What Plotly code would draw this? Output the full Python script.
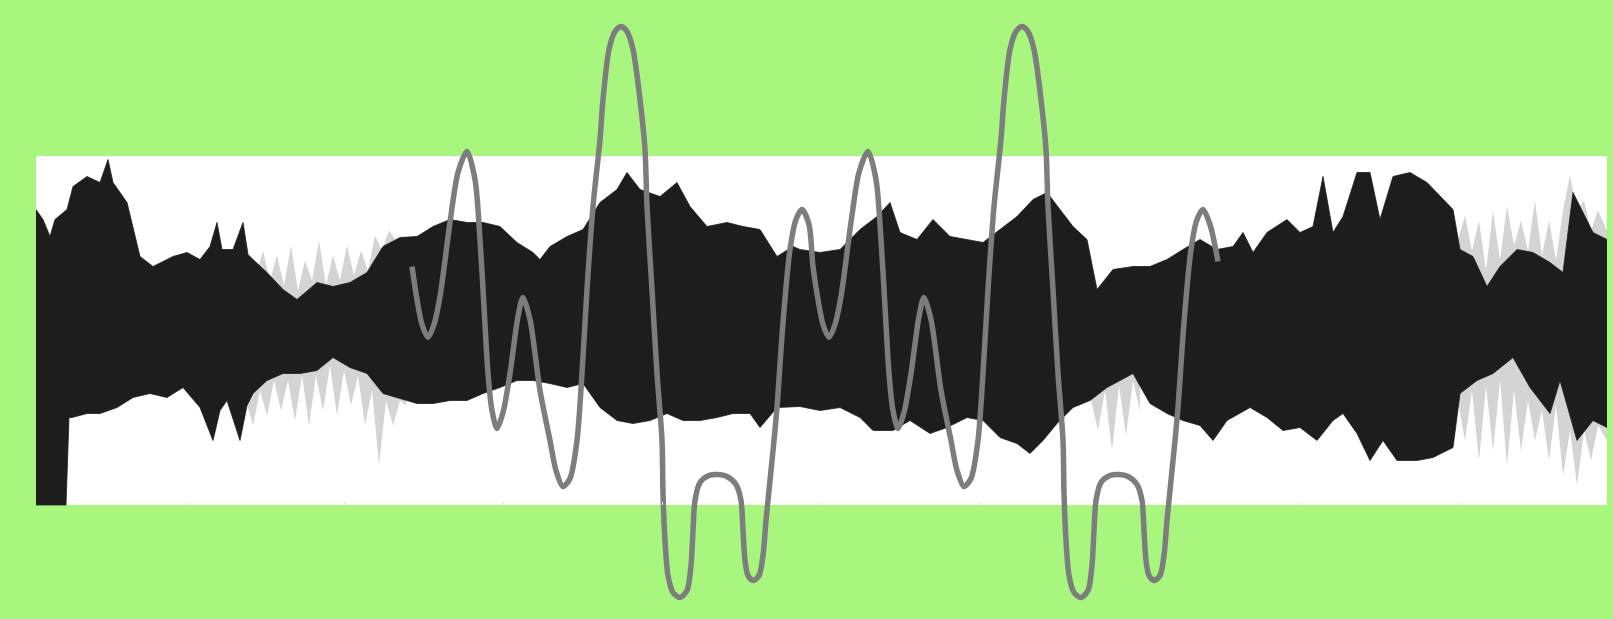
import plotly.graph_objects as go

# ---- waveform envelope (time in s, amplitude) ----
upper_t = [0.00, 0.07, 0.14, 0.19, 0.31, 0.37, 0.51, 0.64, 0.72, 0.77, 0.91, 0.97, 1.04, 1.17, 1.37, 1.51,
           1.64, 1.74, 1.81, 1.86, 1.97, 2.07, 2.12, 2.17, 2.31, 2.47, 2.61, 2.81, 2.97, 3.14, 3.31, 3.47,
           3.64, 3.81, 3.97, 4.14, 4.31, 4.47, 4.64, 4.81, 4.97, 5.04, 5.14, 5.31, 5.47, 5.64, 5.81, 5.91,
           6.04, 6.24, 6.41, 6.54, 6.71, 6.91, 7.07, 7.24, 7.41, 7.57, 7.64, 7.84, 8.04, 8.24, 8.41, 8.54,
           8.64, 8.81, 8.97, 9.14, 9.31, 9.47, 9.64, 9.81, 9.97, 10.11, 10.24, 10.37, 10.51, 10.61, 10.77,
           10.97, 11.14, 11.31, 11.47, 11.64, 11.81, 11.97, 12.07, 12.17, 12.31, 12.51, 12.64, 12.77, 12.87,
           12.97, 13.07, 13.21, 13.34, 13.44, 13.57, 13.74, 13.91, 14.04, 14.17, 14.24, 14.37, 14.51, 14.64,
           14.81, 14.97, 15.14, 15.27, 15.37, 15.47, 15.57, 15.71]
upper_a = [1.21, 1.11, 0.94, 1.11, 1.21, 1.44, 1.54, 1.48, 1.71, 1.48, 1.28, 1.04, 0.74, 0.64, 0.74, 0.78,
           0.71, 0.84, 1.08, 0.81, 0.81, 1.08, 0.76, 0.71, 0.58, 0.41, 0.31, 0.48, 0.44, 0.48, 0.58, 0.84,
           0.93, 0.94, 1.04, 1.11, 1.08, 1.08, 1.04, 0.88, 0.78, 0.71, 0.84, 0.94, 1.01, 1.28, 1.41, 1.58,
           1.41, 1.34, 1.48, 1.24, 1.04, 1.08, 1.04, 1.01, 0.74, 0.84, 0.81, 0.78, 0.81, 1.01, 1.14, 1.28,
           0.98, 0.91, 1.11, 0.94, 0.91, 0.88, 1.01, 1.14, 1.31, 1.38, 1.21, 1.04, 0.91, 0.41, 0.61,
           0.64, 0.64, 0.71, 0.81, 0.91, 0.81, 0.84, 0.98, 0.78, 0.98, 1.11, 0.98, 1.04, 1.54,
           0.98, 1.14, 1.58, 1.58, 1.11, 1.54, 1.58, 1.48, 1.34, 1.21, 0.81, 0.74, 0.44, 0.64,
           0.81, 0.78, 0.68, 0.58, 1.38, 1.18, 0.98, 0.91]

lower_t = [0.00, 0.16, 0.30, 0.33, 0.36, 0.51, 0.64, 0.81, 0.97, 1.14, 1.31, 1.47, 1.64, 1.77, 1.84, 1.91,
           2.04, 2.11, 2.17, 2.31, 2.47, 2.64, 2.81, 2.97, 3.14, 3.31, 3.47, 3.64, 3.81, 3.97, 4.14, 4.31,
           4.47, 4.64, 4.81, 4.97, 5.14, 5.31, 5.47, 5.64, 5.81, 5.97, 6.14, 6.31, 6.47, 6.64, 6.81, 6.97,
           7.14, 7.24, 7.41, 7.64, 7.84, 8.04, 8.24, 8.37, 8.57, 8.74, 8.94, 9.11, 9.31, 9.47, 9.64, 9.81,
           9.94, 10.07, 10.21, 10.37, 10.54, 10.71, 10.84, 10.97, 11.14, 11.31, 11.47, 11.64, 11.77, 11.91,
           12.14, 12.31, 12.47, 12.64, 12.81, 12.97, 13.07, 13.21, 13.34, 13.47, 13.61, 13.81, 13.97, 14.17,
           14.24, 14.41, 14.57, 14.77, 14.94, 15.14, 15.24, 15.41, 15.57, 15.71]
lower_a = [-1.745, -1.745, -1.745, -0.87, -0.87, -0.83, -0.83, -0.77, -0.67, -0.63, -0.67, -0.57, -0.77, -1.10, -0.80, -0.70,
           -1.10, -0.75, -0.63, -0.50, -0.43, -0.43, -0.40, -0.27, -0.37, -0.43, -0.63, -0.68, -0.73, -0.73, -0.70, -0.70,
           -0.63, -0.57, -0.50, -0.50, -0.53, -0.57, -0.53, -0.77, -0.90, -0.93, -0.90, -0.83, -0.90, -0.90, -0.87, -0.83,
           -0.83, -0.97, -0.77, -0.76, -0.80, -0.77, -0.87, -1.00, -1.00, -0.90, -1.03, -0.97, -0.87, -0.90, -1.07, -1.13,
           -1.23, -1.10, -0.93, -0.77, -0.70, -0.57, -0.50, -0.43, -0.73, -0.83, -0.90, -0.95, -1.10, -0.90,
           -0.77, -0.87, -1.00, -0.97, -1.10, -0.90, -0.83, -1.03, -1.30, -1.10, -1.30, -1.30, -1.27, -1.17,
           -0.63, -0.50, -0.43, -0.27, -0.57, -0.83, -0.50, -1.10, -0.90, -0.97]

# faint outer fringe of the waveform (low-level peaks), one closed region per group
fringe_t = [2.20, 2.27, 2.34, 2.41, 2.48, 2.55, 2.62, 2.69, 2.76, 2.83, 2.90, 2.97, 3.04, 3.11, 3.18, 3.25,
            3.32, 3.39, 3.46, 3.53, 3.60, 3.60, 2.20, None,
            2.10, 2.17, 2.24, 2.31, 2.38, 2.45, 2.52, 2.59, 2.66, 2.73, 2.80, 2.87, 2.94, 3.01, 3.08, 3.15,
            3.22, 3.29, 3.36, 3.43, 3.50, 3.57, 3.64, 3.70, 3.70, 2.10, None,
            10.55, 10.62, 10.69, 10.76, 10.83, 10.90, 10.97, 11.04, 11.04, 10.55, None,
            14.15, 14.22, 14.29, 14.36, 14.43, 14.50, 14.57, 14.64, 14.71, 14.78, 14.85, 14.92, 14.99, 15.06,
            15.13, 15.20, 15.27, 15.34, 15.41, 15.48, 15.55, 15.62, 15.71, 15.71, 14.15, None,
            14.15, 14.22, 14.29, 14.36, 14.43, 14.50, 14.57, 14.64, 14.71, 14.78, 14.85, 14.92, 14.99, 15.06,
            15.13, 15.20, 15.27, 15.34, 15.41, 15.48, 15.55, 15.62, 15.71, 15.71, 14.15]
fringe_a = [0.55, 0.80, 0.50, 0.75, 0.45, 0.85, 0.40, 0.70, 0.50, 0.90, 0.45, 0.75, 0.50, 0.85, 0.55, 0.80,
            0.60, 0.95, 0.80, 1.00, 0.90, 0.00, 0.00, None,
            -0.70, -0.95, -0.60, -0.85, -0.50, -0.80, -0.50, -0.90, -0.45, -0.95, -0.45, -0.80, -0.35, -0.85, -0.40, -0.75,
            -0.45, -0.95, -0.60, -1.35, -0.70, -0.95, -0.70, -0.75, 0.00, 0.00, None,
            -0.70, -1.00, -0.60, -1.20, -0.55, -1.05, -0.50, -0.80, 0.00, 0.00, None,
            1.20, 0.90, 1.15, 0.80, 1.10, 0.60, 1.20, 0.70, 1.25, 0.85, 1.10, 0.80, 1.30, 0.75,
            1.10, 0.70, 1.20, 1.55, 1.20, 1.30, 1.00, 1.20, 1.00, 0.00, 0.00, None,
            -1.20, -0.70, -1.10, -0.60, -1.30, -0.55, -1.20, -0.50, -1.35, -0.60, -1.20, -0.70, -1.10, -0.80,
            -1.30, -0.75, -1.45, -1.00, -1.55, -1.00, -1.30, -0.95, -1.10, 0.00, 0.00]

# ---- overlay curve (time in s, amplitude) ----
curve_t = [3.76, 3.81, 3.86, 3.92, 3.98, 4.04, 4.14, 4.22, 4.31, 4.39, 4.44, 4.48, 4.52, 4.56, 4.61, 4.67,
           4.74, 4.82, 4.87, 4.94, 5.04, 5.14, 5.20, 5.27, 5.34, 5.41, 5.46, 5.51, 5.57, 5.64, 5.67, 5.73,
           5.79, 5.85, 5.91, 5.97, 6.04, 6.09, 6.11, 6.16, 6.21, 6.26, 6.27, 6.29, 6.32, 6.37, 6.44, 6.51,
           6.55, 6.57, 6.59, 6.64, 6.73, 6.82, 6.91, 7.00, 7.05, 7.07, 7.09, 7.12, 7.17, 7.23, 7.27, 7.30,
           7.34, 7.38, 7.41, 7.47, 7.54, 7.60, 7.66, 7.73,
           7.77, 7.82, 7.87, 7.93, 7.99, 8.05, 8.15, 8.23, 8.32, 8.40, 8.45, 8.49, 8.53, 8.57, 8.62, 8.68,
           8.75, 8.83, 8.88, 8.95, 9.05, 9.15, 9.21, 9.28, 9.35, 9.42, 9.47, 9.52, 9.58, 9.65, 9.68, 9.74,
           9.80, 9.86, 9.92, 9.98, 10.05, 10.10, 10.12, 10.17, 10.22, 10.27, 10.28, 10.30, 10.33, 10.38, 10.45, 10.52,
           10.56, 10.58, 10.60, 10.65, 10.74, 10.83, 10.92, 11.01, 11.06, 11.08, 11.10, 11.13, 11.18, 11.24, 11.28, 11.31,
           11.35, 11.39, 11.42, 11.48, 11.55, 11.61, 11.67, 11.74, 11.82]
curve_a = [0.64, 0.31, 0.06, -0.07, 0.06, 0.34, 1.08, 1.58, 1.79, 1.51, 0.91, 0.24, -0.43, -0.80, -0.98, -0.82,
           -0.43, 0.14, 0.33, 0.11, -0.60, -1.10, -1.40, -1.56, -1.48, -1.10, -0.43, 0.41, 1.24, 1.91, 2.31, 2.81,
           2.99, 3.04, 2.99, 2.81, 2.31, 1.81, 1.24, 0.41, -0.43, -1.10, -1.63, -2.10, -2.45, -2.62, -2.67, -2.60,
           -2.35, -2.00, -1.70, -1.52, -1.45, -1.44, -1.46, -1.54, -1.70, -2.00, -2.30, -2.45, -2.50, -2.45, -2.25, -1.90,
           -1.50, -1.10, -0.77, 0.08, 0.81, 1.11, 1.21, 1.06,
           0.64, 0.31, 0.06, -0.07, 0.06, 0.34, 1.08, 1.58, 1.79, 1.51, 0.91, 0.24, -0.43, -0.80, -0.98, -0.82,
           -0.43, 0.14, 0.33, 0.11, -0.60, -1.10, -1.40, -1.56, -1.48, -1.10, -0.43, 0.41, 1.24, 1.91, 2.31, 2.81,
           2.99, 3.04, 2.99, 2.81, 2.31, 1.81, 1.24, 0.41, -0.43, -1.10, -1.63, -2.10, -2.45, -2.62, -2.67, -2.60,
           -2.35, -2.00, -1.70, -1.52, -1.45, -1.44, -1.46, -1.54, -1.70, -2.00, -2.30, -2.45, -2.50, -2.45, -2.25, -1.90,
           -1.50, -1.10, -0.77, 0.08, 0.81, 1.11, 1.21, 1.06, 0.69]

GREEN = "#a8f67e"

fig = go.Figure()

fig.add_trace(go.Scatter(x=fringe_t, y=fringe_a, mode="lines", fill="toself",
                         fillcolor="rgba(40,40,40,0.2)", line=dict(width=0),
                         hoverinfo="skip", showlegend=False))

# waveform as a closed filled polygon between upper and lower envelope
poly_x = upper_t + lower_t[::-1]
poly_y = upper_a + lower_a[::-1]
fig.add_trace(go.Scatter(x=poly_x, y=poly_y, mode="lines", fill="toself",
                         fillcolor="#1d1d1d", line=dict(width=0.8, color="#1d1d1d"),
                         hoverinfo="skip", showlegend=False))

fig.add_trace(go.Scatter(x=curve_t, y=curve_a, mode="lines",
                         line=dict(color="#7d7d7d", width=5.5, shape="spline", smoothing=0.8),
                         hoverinfo="skip", showlegend=False))

fig.update_layout(
    width=1613, height=619,
    margin=dict(l=36, r=6, t=0, b=0),
    paper_bgcolor=GREEN,
    plot_bgcolor="rgba(0,0,0,0)",
    showlegend=False,
    xaxis=dict(range=[0, 15.71], showgrid=False, zeroline=False, showticklabels=False,
               ticks="inside", ticklen=3, tickcolor="#e4e4e4", tick0=1.49, dtick=1.591,
               anchor="free", position=114 / 619, showline=False),
    xaxis2=dict(range=[0, 15.71], overlaying="x", side="top", showgrid=False, zeroline=False,
                showticklabels=False, ticks="inside", ticklen=3, tickcolor="#e4e4e4",
                tick0=1.49, dtick=1.591, anchor="free", position=463 / 619, showline=False),
    yaxis=dict(range=[-2.885, 3.305], showgrid=False, zeroline=False, showticklabels=False,
               domain=[0, 1]),
    shapes=[dict(type="rect", xref="x domain", yref="y", x0=0, x1=1, y0=-1.745, y1=1.745,
                 fillcolor="white", line=dict(width=0), layer="below")],
)

fig.write_html("out.html", config={"displayModeBar": False},
               post_script="document.body.style.margin='0';document.body.style.padding='0';"
                           "document.body.style.background='" + GREEN + "';")
